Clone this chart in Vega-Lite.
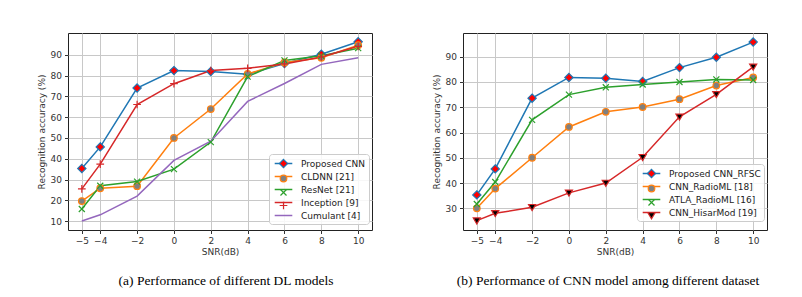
{
  "$schema": "https://vega.github.io/schema/vega-lite/v6.json",
  "background": "white",
  "padding": {"left": 36, "top": 32, "right": 5, "bottom": 5},
  "spacing": 91,
  "bounds": "flush",
  "config": {
    "view": {"stroke": "#222", "strokeWidth": 1},
    "axis": {"labelFont": "DejaVu Sans", "labelFontSize": 9, "labelColor": "#333", "titleFont": "DejaVu Sans", "titleFontSize": 9, "titleFontWeight": "normal", "titleColor": "#333", "tickColor": "#333", "tickSize": 3.5, "labelPadding": 3, "gridColor": "#c8c8c8", "gridWidth": 1, "domain": false},
    "legend": {"labelFont": "DejaVu Sans", "labelFontSize": 9, "labelColor": "#222"}
  },
  "datasets": {
    "a": [
      {"model": "Proposed CNN", "snr": -5, "acc": 35.3}, {"model": "Proposed CNN", "snr": -4, "acc": 45.7}, {"model": "Proposed CNN", "snr": -2, "acc": 74}, {"model": "Proposed CNN", "snr": 0, "acc": 82.4}, {"model": "Proposed CNN", "snr": 2, "acc": 82}, {"model": "Proposed CNN", "snr": 4, "acc": 80.6}, {"model": "Proposed CNN", "snr": 6, "acc": 85.8}, {"model": "Proposed CNN", "snr": 8, "acc": 90.3}, {"model": "Proposed CNN", "snr": 10, "acc": 96.3},
      {"model": "CLDNN [21]", "snr": -5, "acc": 19.6}, {"model": "CLDNN [21]", "snr": -4, "acc": 25.8}, {"model": "CLDNN [21]", "snr": -2, "acc": 26.8}, {"model": "CLDNN [21]", "snr": 0, "acc": 50}, {"model": "CLDNN [21]", "snr": 2, "acc": 63.9}, {"model": "CLDNN [21]", "snr": 4, "acc": 80.8}, {"model": "CLDNN [21]", "snr": 6, "acc": 86.3}, {"model": "CLDNN [21]", "snr": 8, "acc": 88.6}, {"model": "CLDNN [21]", "snr": 10, "acc": 94.6},
      {"model": "ResNet [21]", "snr": -5, "acc": 15.8}, {"model": "ResNet [21]", "snr": -4, "acc": 27}, {"model": "ResNet [21]", "snr": -2, "acc": 29}, {"model": "ResNet [21]", "snr": 0, "acc": 35}, {"model": "ResNet [21]", "snr": 2, "acc": 48}, {"model": "ResNet [21]", "snr": 4, "acc": 79.5}, {"model": "ResNet [21]", "snr": 6, "acc": 87.3}, {"model": "ResNet [21]", "snr": 8, "acc": 89.5}, {"model": "ResNet [21]", "snr": 10, "acc": 93.2},
      {"model": "Inception [9]", "snr": -5, "acc": 25.5}, {"model": "Inception [9]", "snr": -4, "acc": 37.4}, {"model": "Inception [9]", "snr": -2, "acc": 66.1}, {"model": "Inception [9]", "snr": 0, "acc": 76.1}, {"model": "Inception [9]", "snr": 2, "acc": 82.4}, {"model": "Inception [9]", "snr": 4, "acc": 83.5}, {"model": "Inception [9]", "snr": 6, "acc": 85.6}, {"model": "Inception [9]", "snr": 8, "acc": 89}, {"model": "Inception [9]", "snr": 10, "acc": 94.1},
      {"model": "Cumulant [4]", "snr": -5, "acc": 10}, {"model": "Cumulant [4]", "snr": -4, "acc": 13}, {"model": "Cumulant [4]", "snr": -2, "acc": 22}, {"model": "Cumulant [4]", "snr": 0, "acc": 39.2}, {"model": "Cumulant [4]", "snr": 2, "acc": 48.4}, {"model": "Cumulant [4]", "snr": 4, "acc": 67.6}, {"model": "Cumulant [4]", "snr": 6, "acc": 76.2}, {"model": "Cumulant [4]", "snr": 8, "acc": 85.4}, {"model": "Cumulant [4]", "snr": 10, "acc": 88.6}
    ],
    "b": [
      {"model": "Proposed CNN_RFSC", "snr": -5, "acc": 35.3}, {"model": "Proposed CNN_RFSC", "snr": -4, "acc": 45.6}, {"model": "Proposed CNN_RFSC", "snr": -2, "acc": 73.6}, {"model": "Proposed CNN_RFSC", "snr": 0, "acc": 81.8}, {"model": "Proposed CNN_RFSC", "snr": 2, "acc": 81.5}, {"model": "Proposed CNN_RFSC", "snr": 4, "acc": 80.2}, {"model": "Proposed CNN_RFSC", "snr": 6, "acc": 85.7}, {"model": "Proposed CNN_RFSC", "snr": 8, "acc": 89.8}, {"model": "Proposed CNN_RFSC", "snr": 10, "acc": 95.8},
      {"model": "CNN_RadioML [18]", "snr": -5, "acc": 30}, {"model": "CNN_RadioML [18]", "snr": -4, "acc": 37.8}, {"model": "CNN_RadioML [18]", "snr": -2, "acc": 50}, {"model": "CNN_RadioML [18]", "snr": 0, "acc": 62.2}, {"model": "CNN_RadioML [18]", "snr": 2, "acc": 68.2}, {"model": "CNN_RadioML [18]", "snr": 4, "acc": 70.1}, {"model": "CNN_RadioML [18]", "snr": 6, "acc": 73.2}, {"model": "CNN_RadioML [18]", "snr": 8, "acc": 78.6}, {"model": "CNN_RadioML [18]", "snr": 10, "acc": 81.8},
      {"model": "ATLA_RadioML [16]", "snr": -5, "acc": 31.7}, {"model": "ATLA_RadioML [16]", "snr": -4, "acc": 40.4}, {"model": "ATLA_RadioML [16]", "snr": -2, "acc": 65}, {"model": "ATLA_RadioML [16]", "snr": 0, "acc": 75}, {"model": "ATLA_RadioML [16]", "snr": 2, "acc": 77.9}, {"model": "ATLA_RadioML [16]", "snr": 4, "acc": 79}, {"model": "ATLA_RadioML [16]", "snr": 6, "acc": 80}, {"model": "ATLA_RadioML [16]", "snr": 8, "acc": 81}, {"model": "ATLA_RadioML [16]", "snr": 10, "acc": 80.8},
      {"model": "CNN_HisarMod [19]", "snr": -5, "acc": 25.1}, {"model": "CNN_HisarMod [19]", "snr": -4, "acc": 28}, {"model": "CNN_HisarMod [19]", "snr": -2, "acc": 30.4}, {"model": "CNN_HisarMod [19]", "snr": 0, "acc": 36.1}, {"model": "CNN_HisarMod [19]", "snr": 2, "acc": 40}, {"model": "CNN_HisarMod [19]", "snr": 4, "acc": 50.2}, {"model": "CNN_HisarMod [19]", "snr": 6, "acc": 66.2}, {"model": "CNN_HisarMod [19]", "snr": 8, "acc": 75.1}, {"model": "CNN_HisarMod [19]", "snr": 10, "acc": 86}
    ]
  },
  "hconcat": [
    {
      "width": 304,
      "height": 197,
      "data": {"name": "a"},
      "title": {"text": "(a)  Performance of different DL models", "orient": "bottom", "font": "Liberation Serif", "fontSize": 13.5, "fontWeight": "normal", "color": "#000", "offset": 17, "dx": 6},
      "encoding": {
        "x": {"field": "snr", "type": "quantitative", "scale": {"domain": [-5.75, 10.75], "nice": false, "zero": false}, "axis": {"title": "SNR(dB)", "values": [-5, -4, -2, 0, 2, 4, 6, 8, 10], "titlePadding": 2}},
        "y": {"field": "acc", "type": "quantitative", "scale": {"domain": [5.7, 100.5], "nice": false, "zero": false}, "axis": {"title": "Recognition accuracy (%)", "values": [10, 20, 30, 40, 50, 60, 70, 80, 90], "titlePadding": 4}}
      },
      "layer": [
        {
          "mark": {"type": "line", "strokeWidth": 1.5},
          "encoding": {
            "color": {"field": "model", "type": "nominal", "sort": ["Proposed CNN", "CLDNN [21]", "ResNet [21]", "Inception [9]", "Cumulant [4]"], "scale": {"range": ["#1f77b4", "#ff7f0e", "#2ca02c", "#d62728", "#9467bd"]},
              "legend": {"title": null, "orient": "none", "legendX": 201, "legendY": 121, "padding": 3, "symbolOffset": 5, "labelOffset": 11, "rowPadding": 1, "symbolSize": 121, "symbolStrokeWidth": 1.5, "symbolType": "M-1.6,0H1.6", "fillColor": "rgba(255,255,255,0.85)", "strokeColor": "#cccccc", "cornerRadius": 3}}
          }
        },
        {
          "mark": {"type": "point", "size": 121, "strokeWidth": 1.2, "opacity": 1},
          "encoding": {
            "stroke": {"field": "model", "type": "nominal", "scale": {"domain": ["Proposed CNN", "CLDNN [21]", "ResNet [21]", "Inception [9]", "Cumulant [4]"], "range": ["#1f77b4", "#ff7f0e", "#2ca02c", "#d62728", "#9467bd"]},
              "legend": {"title": null, "orient": "none", "legendX": 201, "legendY": 121, "padding": 3, "symbolOffset": 5, "labelOffset": 11, "rowPadding": 1, "symbolSize": 121, "symbolStrokeWidth": 1.2, "labelExpr": "' '", "labelColor": "transparent", "fillColor": "transparent", "strokeColor": "transparent"}},
            "fill": {"field": "model", "type": "nominal", "scale": {"domain": ["Proposed CNN", "CLDNN [21]", "ResNet [21]", "Inception [9]", "Cumulant [4]"], "range": ["#ff0000", "#808080", "transparent", "transparent", "transparent"]},
              "legend": {"title": null, "orient": "none", "legendX": 201, "legendY": 121, "padding": 3, "symbolOffset": 5, "labelOffset": 11, "rowPadding": 1, "symbolSize": 121, "symbolStrokeWidth": 1.2, "labelExpr": "' '", "labelColor": "transparent", "fillColor": "transparent", "strokeColor": "transparent"}},
            "shape": {"field": "model", "type": "nominal", "scale": {"domain": ["Proposed CNN", "CLDNN [21]", "ResNet [21]", "Inception [9]", "Cumulant [4]"], "range": ["M0,-0.75L0.75,0L0,0.75L-0.75,0Z", "M-0.6,0A0.6,0.6 0 1,1 0.6,0A0.6,0.6 0 1,1 -0.6,0Z", "M-0.55,-0.55L0.55,0.55M-0.55,0.55L0.55,-0.55", "M-0.7,0H0.7M0,-0.7V0.7", "M0,0"]},
              "legend": {"title": null, "orient": "none", "legendX": 201, "legendY": 121, "padding": 3, "symbolOffset": 5, "labelOffset": 11, "rowPadding": 1, "symbolSize": 121, "symbolStrokeWidth": 1.2, "labelExpr": "' '", "labelColor": "transparent", "fillColor": "transparent", "strokeColor": "transparent"}}
          }
        }
      ]
    },
    {
      "width": 304,
      "height": 197,
      "data": {"name": "b"},
      "title": {"text": "(b)  Performance of CNN model among different dataset", "orient": "bottom", "font": "Liberation Serif", "fontSize": 13.5, "fontWeight": "normal", "color": "#000", "offset": 17, "dx": -7},
      "encoding": {
        "x": {"field": "snr", "type": "quantitative", "scale": {"domain": [-5.75, 10.75], "nice": false, "zero": false}, "axis": {"title": "SNR(dB)", "values": [-5, -4, -2, 0, 2, 4, 6, 8, 10], "titlePadding": 2}},
        "y": {"field": "acc", "type": "quantitative", "scale": {"domain": [21.4, 99.4], "nice": false, "zero": false}, "axis": {"title": "Recognition accuracy (%)", "values": [30, 40, 50, 60, 70, 80, 90], "titlePadding": 4}}
      },
      "layer": [
        {
          "mark": {"type": "line", "strokeWidth": 1.5},
          "encoding": {
            "color": {"field": "model", "type": "nominal", "sort": ["Proposed CNN_RFSC", "CNN_RadioML [18]", "ATLA_RadioML [16]", "CNN_HisarMod [19]"], "scale": {"range": ["#1f77b4", "#ff7f0e", "#2ca02c", "#d62728"]},
              "legend": {"title": null, "orient": "none", "legendX": 174, "legendY": 131, "padding": 3, "symbolOffset": 5, "labelOffset": 11, "rowPadding": 1, "symbolSize": 121, "symbolStrokeWidth": 1.5, "symbolType": "M-1.6,0H1.6", "fillColor": "rgba(255,255,255,0.85)", "strokeColor": "#cccccc", "cornerRadius": 3}}
          }
        },
        {
          "mark": {"type": "point", "size": 121, "strokeWidth": 1.2, "opacity": 1},
          "encoding": {
            "stroke": {"field": "model", "type": "nominal", "scale": {"domain": ["Proposed CNN_RFSC", "CNN_RadioML [18]", "ATLA_RadioML [16]", "CNN_HisarMod [19]"], "range": ["#1f77b4", "#ff7f0e", "#2ca02c", "#d62728"]},
              "legend": {"title": null, "orient": "none", "legendX": 174, "legendY": 131, "padding": 3, "symbolOffset": 5, "labelOffset": 11, "rowPadding": 1, "symbolSize": 121, "symbolStrokeWidth": 1.2, "labelExpr": "' '", "labelColor": "transparent", "fillColor": "transparent", "strokeColor": "transparent"}},
            "fill": {"field": "model", "type": "nominal", "scale": {"domain": ["Proposed CNN_RFSC", "CNN_RadioML [18]", "ATLA_RadioML [16]", "CNN_HisarMod [19]"], "range": ["#ff0000", "#808080", "transparent", "#000000"]},
              "legend": {"title": null, "orient": "none", "legendX": 174, "legendY": 131, "padding": 3, "symbolOffset": 5, "labelOffset": 11, "rowPadding": 1, "symbolSize": 121, "symbolStrokeWidth": 1.2, "labelExpr": "' '", "labelColor": "transparent", "fillColor": "transparent", "strokeColor": "transparent"}},
            "shape": {"field": "model", "type": "nominal", "scale": {"domain": ["Proposed CNN_RFSC", "CNN_RadioML [18]", "ATLA_RadioML [16]", "CNN_HisarMod [19]"], "range": ["M0,-0.75L0.75,0L0,0.75L-0.75,0Z", "M-0.6,0A0.6,0.6 0 1,1 0.6,0A0.6,0.6 0 1,1 -0.6,0Z", "M-0.55,-0.55L0.55,0.55M-0.55,0.55L0.55,-0.55", "M-0.65,-0.5H0.65L0,0.6Z"]},
              "legend": {"title": null, "orient": "none", "legendX": 174, "legendY": 131, "padding": 3, "symbolOffset": 5, "labelOffset": 11, "rowPadding": 1, "symbolSize": 121, "symbolStrokeWidth": 1.2, "labelExpr": "' '", "labelColor": "transparent", "fillColor": "transparent", "strokeColor": "transparent"}}
          }
        }
      ]
    }
  ],
  "resolve": {"scale": {"x": "independent", "y": "independent", "color": "independent", "stroke": "independent", "fill": "independent", "shape": "independent"}, "legend": {"stroke": "independent", "fill": "independent", "shape": "independent", "color": "independent"}}
}
